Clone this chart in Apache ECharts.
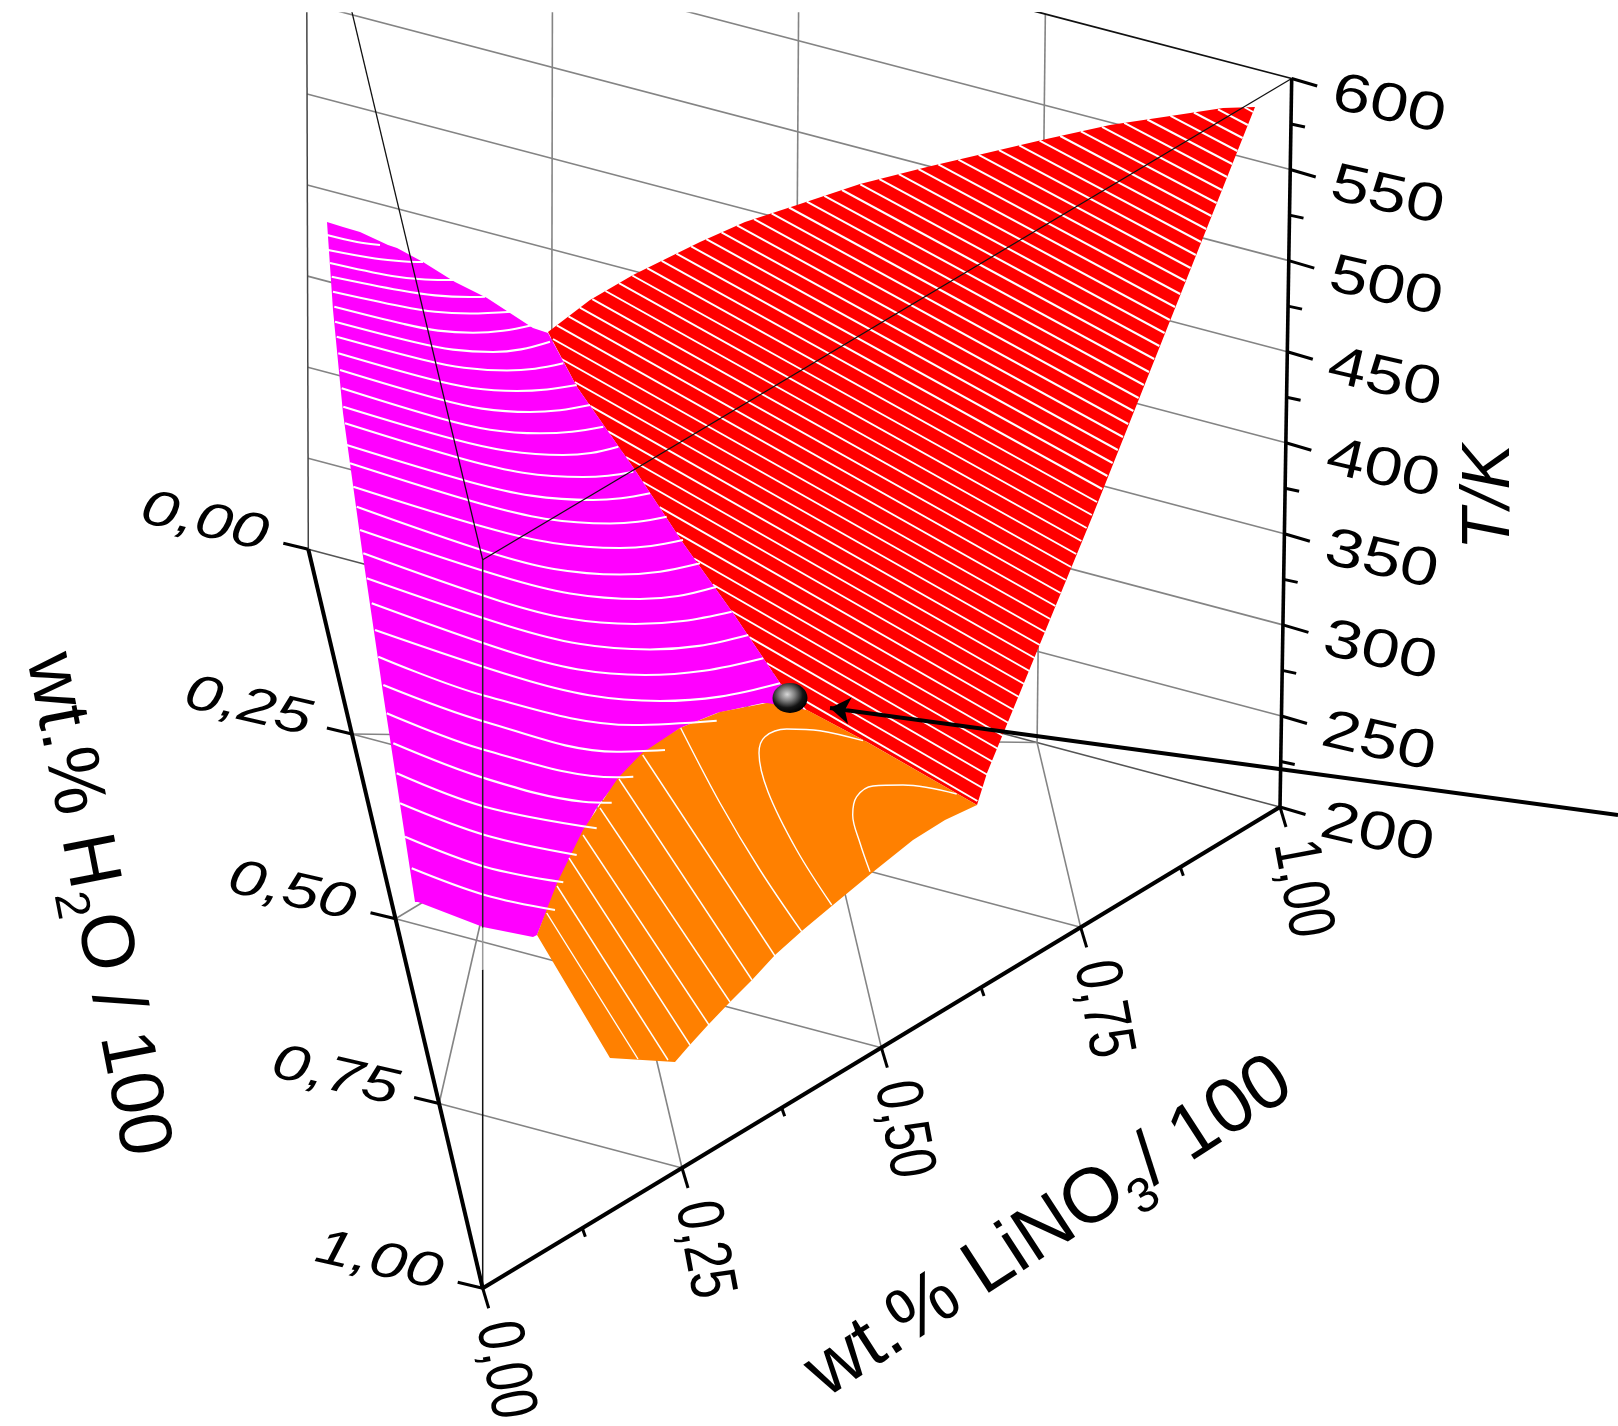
<!DOCTYPE html>
<html><head><meta charset="utf-8">
<style>html,body{margin:0;padding:0;background:#fff}#c{width:1618px;height:1426px}</style>
<script src="https://cdn.jsdelivr.net/npm/echarts@6/dist/echarts.min.js"></script>
</head><body><div id="c"></div>
<script>
// Axis values
const tempTicks = [200,250,300,350,400,450,500,550,600];
const tempMinor = [225,275,325,375,425,475,525,575];
const waterTicks = [0,0.25,0.5,0.75,1];
const waterLabels = ['0,00','0,25','0,50','0,75','1,00'];
const lithiumTicks = [0,0.25,0.5,0.75,1];
const lithiumMinor = [0.125,0.375,0.625,0.875];
const lithiumLabels = ['0,00','0,25','0,50','0,75','1,00'];

// Surface readings, in the picture plane of the 3D view (x, y)
const redOutline = [[548,332],[590,300],[633,275],[700,242],[745,222],[797,205],[860,184],[927,167],[1042,140],[1110,125],[1177,115],[1223,108],[1255,107],[1091.7,518],[987,773],[977,805],[866.7,741.7],[806.7,710],[780,683],[733,613],[683,543],[635,470],[577,387]];
const magentaOutline = [[327,222],[343,227],[360,232],[388,245],[397,248],[423,262],[455,282],[487,298],[533,328],[548,333],[577,387],[635,470],[683,543],[733,613],[780,683],[806,712],[763,703],[717,713],[680,728],[643,755],[620,778],[597,807],[570,858],[550,903],[537,935],[533,937],[483,927],[418,902],[415,902],[383,693],[362,550],[343,413],[333,310]];
const orangeOutline = [[537,935],[557,883],[583,830],[618,778],[642,753],[680,728],[720,712],[767,703],[807,710],[867,742],[977,805],[945,820],[913,840],[873,872],[833,905],[803,930],[775,955],[752,980],[730,1002],[708,1025],[688,1047],[675,1062],[610,1058]];

const redContours = [
[[1244,107],[1253,112]],[[1218,109.4],[1247.8,125]],[[1193.9,112.5],[1242.6,138]],[[1170.5,115.9],[1237.4,151]],
[[1147.3,119.5],[1232.2,164]],[[1124.2,122.9],[1227,177]],[[1102,126.8],[1221.8,190]],[[1080.9,131.4],[1216.6,203]],
[[1060.2,136],[1211.4,216]],[[1039.6,140.7],[1206.2,229]],[[1019.2,145.3],[1201,242]],[[999,150.1],[1195.8,255]],
[[978.7,154.9],[1190.6,268]],[[958.4,159.7],[1185.4,281]],[[938.3,164.4],[1180.2,294]],[[918.5,169.2],[1175,307]],
[[898.8,174.2],[1169.8,320]],[[879.4,179.1],[1164.6,333]],[[860.3,184.3],[1159.4,346]],[[842,190],[1154.2,359]],
[[824.3,195.9],[1149,372]],[[806.8,201.7],[1143.8,385]],[[789,207.5],[1138.6,398]],[[771.6,213.4],[1133.4,411]],
[[754,219.1],[1128.2,424]],[[737,225.4],[1123,437]],[[721.5,232.4],[1117.8,450]],[[706.3,239.1],[1112.6,463]],
[[691.2,246.4],[1107.4,476]],[[676.4,253.7],[1102.2,489]],[[661.7,260.9],[1097,502]],[[647.1,268.1],[1091.8,515]],
[[632.3,275.5],[1086.6,528]],[[619,283.2],[1081.4,541]],[[605.5,291],[1076.2,554]],[[592.3,299.2],[1071,567]],
[[579.9,307.7],[1065.8,580]],[[568.5,316.4],[1060.6,593]],[[556.8,325.3],[1055.4,606]],[[553,339],[1050.2,619]],
[[561.5,359],[1045,632]],[[574.7,382],[1039.8,645]],[[590.1,405.8],[1034.6,658]],[[608,431.4],[1029.4,671]],
[[625.9,457],[1024.2,684]],[[642.9,482],[1019,697]],[[659.5,507.2],[1013.8,710]],[[676.4,532.7],[1008.6,723]],
[[694,558.5],[1003.4,736]],[[712.6,584.5],[998.2,749]],[[731.2,611],[993,762]],[[749.2,637.2],[987.8,775]],
[[766.5,663],[982.6,788]],[[783.5,688.3],[977.4,801]]
];
const magentaContours = [
[[411.7,868.3],[484.7,895],[555,910]],
[[405,836.7],[484.7,866.7],[563.3,882.3]],
[[400,803.3],[484.7,835],[576.7,855]],
[[396.7,773.3],[484.7,806.7],[596.7,828.3]],
[[393.3,743.3],[484.7,778.3],[583.3,801.7],[611.7,802.7]],
[[386.7,713.3],[484.7,750],[616.7,777.3],[633.3,776.7]],
[[383.3,685],[484.7,721.7],[616.7,751.7],[665,750]],
[[378.3,656.7],[484.7,695.7],[633.3,725],[716.7,720.7]],
[[375,630],[517.5,677.6],[589,695.3],[660,701],[720,696.6],[780,683.3]],
[[371.7,603.3],[508,651.3],[577,669.3],[645,675],[704,670.8],[763.3,658.3]],
[[366.7,578.3],[508,626],[579,643.8],[650,649.5],[699,645.9],[748.3,635]],
[[363.3,553.3],[499,600.7],[567,618.3],[635,624],[683,621],[731.7,611.7]],
[[360,530],[500,576],[570,593.5],[640,599],[678,596],[716.7,586.7]],
[[356.7,506.7],[488,552],[554,569],[620,574.5],[660,571.7],[700,563.3]],
[[353.3,486.7],[487,527.8],[553,543],[620,548],[651,546],[683,540]],
[[350,463.3],[480,503.6],[545,518.7],[610,523.5],[638,521.8],[666.7,516.7]],
[[346.7,445],[470,481.9],[531,495.6],[593,500],[621,498.3],[650,493.3]],
[[345,423.3],[464,459.3],[523,472.7],[583,477],[608,475.7],[633.3,471.7]],
[[343.3,406.7],[453,439],[508,451],[563,455],[591,453],[618.3,446.7]],
[[341.7,388.3],[441,418.5],[490,429.7],[540,433.3],[572,431.7],[603.3,426.7]],
[[340,370],[435,398],[482,408.6],[530,412],[560,410.2],[590,405]],
[[338.3,353.3],[428,378.6],[472,388],[517,391],[547,389.5],[576.7,385]],
[[336.7,336.7],[422,359.4],[464,367.8],[507,370.5],[535,368.7],[563.3,363.3]],
[[335,321.7],[414,342],[453,349.6],[493,352],[521,349.4],[550,341.7]],
[[334.3,306.7],[404,324],[438,330.6],[473,332.7],[503,330.8],[533,325]],
[[333,291.7],[401,306.3],[435,311.8],[470,313.5],[511.7,311.7]],
[[331.7,276.7],[400,290.3],[435,295.4],[470,297],[485,296.7]],
[[330,263],[392,276],[425,279.5],[455,280]],
[[328,250],[375,258.5],[405,261.5],[423,262]],
[[327,235],[357,242],[380,245]]
];
const orangeContours = [
[[546.7,913],[638,1059]],
[[557,886],[668,1060]],
[[569,858],[690,1045]],
[[583,835],[709,1025]],
[[600,808],[730,1002]],
[[619,779],[752,980]],
[[642.7,755],[775,956]],
[[680.7,728],[720,803],[760,870],[801.7,931.7]],
[[863,740.7],[820,730.7],[786.7,729],[765,736.7],[759,753],[768,791.7],[796.7,850],[831.7,905]],
[[956.7,794],[903,785],[873,786],[856.7,796.7],[852.7,815],[860,843],[870,871.7]]
];
const eutecticPoint = [790,698];
const arrowLine = [[1618,815],[830,708]];

// Oblique view of the prism
const cornerWater = [482.7,1288.3], cornerLithium = [1280,807], cornerThird = [308.3,549.3];
function project(li, w, T) {
  const k = 1 - li - w, f = (T - 200) / 400;
  return [
    w*cornerWater[0] + li*cornerLithium[0] + k*cornerThird[0] + f*(li*11.7 - k*2),
    w*cornerWater[1] + li*cornerLithium[1] + k*cornerThird[1] - f*728.5
  ];
}
const series = [];
function line(points, color, width, z, smooth) {
  series.push({type:'line', data:points, showSymbol:false, symbol:'none', silent:true, animation:false,
    smooth:smooth?0.35:false, z, lineStyle:{color, width, cap:'butt'}, clip:true});
}
function poly(outline, color, z) {
  series.push({type:'custom', coordinateSystem:'cartesian2d', data:[outline[0]], silent:true, animation:false, z,
    renderItem:(p, api) => ({type:'polygon', shape:{points:outline.map(q => api.coord(q))}, style:{fill:color}})});
}
const GRAY = '#848484', INK = '#000';

// back wall and floor grid
tempTicks.forEach(T => { if (T < 600) line([project(1,0,T), project(0,0,T)], T === 200 ? '#555' : GRAY, 1.6, 1); });
[0.25,0.5,0.75].forEach(a => {
  line([project(a,0,200), project(a,0,600)], GRAY, 1.6, 1);
  line([project(1-a,a,200), project(0,a,200)], GRAY, 1.6, 1);            // constant water
  line([project(a,1-a,200), project(a,0,200)], GRAY, 1.6, 1);            // constant lithium
  line([project(0,a,200), project(1-a,0,200)], GRAY, 1.6, 1);            // constant third component
});
line([project(0,0,200), project(0,0,600)], '#444', 1.5, 1);

// surfaces
poly(redOutline, '#ff0000', 2);
redContours.forEach(c => line(c, '#fff', 2, 3));
poly(magentaOutline, '#ff00ff', 4);
poly(orangeOutline, '#ff8000', 5);
orangeContours.forEach(c => line(c, '#fff', 1.4, 6, true));
magentaContours.forEach(c => line(c, '#fff', 2.1, 7, true));

// prism edges in front of the surfaces
line([project(0,1,200), project(0,1,375)], '#111', 1.5, 8);
line([project(0,1,375), project(0,1,398)], '#9a9a9a', 1.5, 8);
line([project(0,1,398), project(0,1,600)], '#222', 1.5, 8);
line([project(0,1,600), project(1,0,600)], '#111', 1.3, 8);
line([project(0,1,600), project(0,0,600)], '#111', 1.3, 8);
line([project(1,0,600), project(0,0,600)], '#111', 1.8, 8);

// axes
line([project(0,0,200), project(0,1,200)], INK, 4, 9);
line([project(0,1,200), project(1,0,200)], INK, 4, 9);
line([project(1,0,200), project(1,0,600)], INK, 3.6, 9);
const shift = (p, d) => [p[0]+d[0], p[1]+d[1]];
tempTicks.forEach(T => { const p = project(1,0,T); line([p, shift(p,[25.5,7.5])], INK, 3, 9); });
tempMinor.forEach(T => { const p = project(1,0,T); line([p, shift(p,[14,3])], INK, 3, 9); });
waterTicks.forEach(w => { const p = project(0,w,200); line([p, shift(p,[-25,-6])], INK, 3, 9); });
lithiumTicks.forEach(l => { const p = project(l,1-l,200); line([p, shift(p,[6,20])], INK, 3, 9); });
lithiumMinor.forEach(l => { const p = project(l,1-l,200); line([p, shift(p,[3,8.5])], INK, 3, 9); });

// eutectic marker and arrow
series.push({type:'lines', coordinateSystem:'cartesian2d', silent:true, animation:false, z:10,
  symbol:['none','arrow'], symbolSize:[0,20], lineStyle:{color:INK, width:4, opacity:1},
  data:[{coords:arrowLine}]});
series.push({type:'scatter', data:[eutecticPoint], symbol:'circle', symbolSize:[35,30], silent:true, animation:false, z:10,
  itemStyle:{opacity:1, color:{type:'radial', x:0.42, y:0.38, r:0.62, colorStops:[{offset:0,color:'#d8d8d8'},{offset:0.35,color:'#808080'},{offset:0.72,color:'#141414'},{offset:1,color:'#000'}]}}});

// text
const FONT = '"Liberation Sans", Arial, sans-serif';
const texts = [];
const rad = d => d*Math.PI/180;
tempTicks.forEach(T => { const p = project(1,0,T); texts.push({at:shift(p,[97,27]), text:String(T), size:54, sx:1.27, rot:-13}); });
waterTicks.forEach((w,i) => { const p = project(0,w,200); texts.push({at:shift(p,[-104,-27]), text:waterLabels[i], size:50, sx:1.32, rot:-13, italic:true}); });
lithiumTicks.forEach((l,i) => { const p = project(l,1-l,200); texts.push({at:shift(p,[21,82]), text:lithiumLabels[i], size:66, sx:0.76, rot:-79.5}); });
texts.push({at:[1490,497], text:'T/K', size:68, sx:1, rot:90, italic:true});
texts.push({at:[90,906], rich:'{b|wt.% H}{s|2}{b|O / 100}', size:75, sx:1, rot:-79});
texts.push({at:[1053,1233], rich:'{b|wt.% LiNO}{s|3}{b|/ 100}', size:77, sx:1, rot:33});
series.push({type:'custom', coordinateSystem:'cartesian2d', data:texts.map(t => t.at), silent:true, animation:false, z:11,
  renderItem:(p, api) => {
    const t = texts[p.dataIndex], c = api.coord(t.at);
    const font = (t.italic?'italic ':'') + t.size + 'px ' + FONT;
    const style = {fill:'#000', align:'center', verticalAlign:'middle', font};
    if (t.rich) {
      style.text = t.rich;
      style.rich = {b:{font, fill:'#000', verticalAlign:'bottom', padding:[0,0,12,0]},
                    s:{font:Math.round(t.size*0.64)+'px '+FONT, fill:'#000', verticalAlign:'bottom'}};
    } else style.text = t.text;
    return {type:'text', x:c[0], y:c[1], rotation:rad(t.rot), scaleX:t.sx, scaleY:1, style};
  }});

const chart = echarts.init(document.getElementById('c'), null, {renderer:'canvas', width:1618, height:1426});
chart.setOption({
  animation:false, backgroundColor:'#fff',
  grid:{left:0, right:0, top:13, bottom:0},
  xAxis:{type:'value', min:0, max:1618, show:false},
  yAxis:{type:'value', min:13, max:1426, inverse:true, show:false},
  series
});
</script></body></html>
